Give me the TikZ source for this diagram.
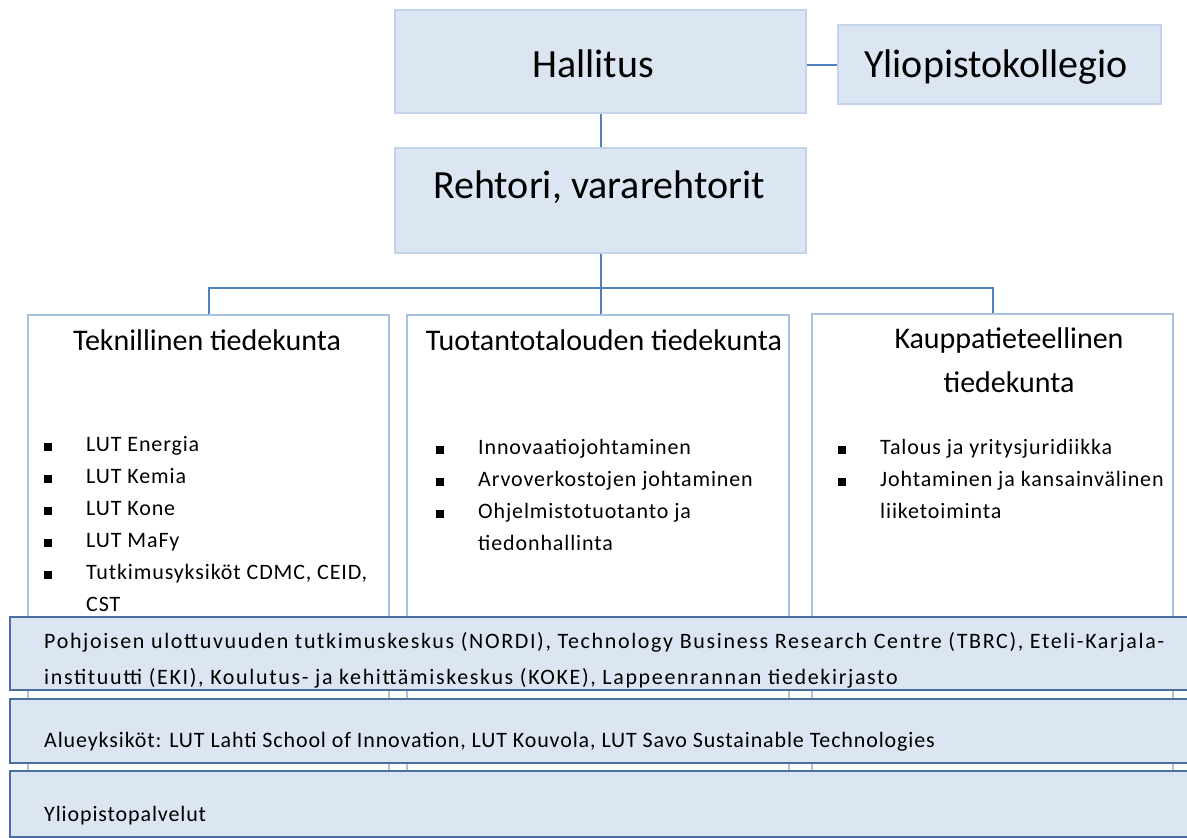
\documentclass[tikz,border=0pt]{standalone}
\usepackage{fontspec}
\setmainfont{Carlito}
\newfontfamily\smallfont[LetterSpace=4]{Carlito}
\newfontfamily\widefont[LetterSpace=7.5]{Carlito}
\definecolor{boxfill}{HTML}{DCE6F2}
\definecolor{topline}{HTML}{C3D4EA}
\definecolor{connc}{HTML}{4F81BD}
\definecolor{facline}{HTML}{A9C2E2}
\definecolor{barline}{HTML}{4A6E9E}
\newcommand{\bitem}[1]{\makebox[42pt][l]{\rule[0.5pt]{7.5pt}{7.5pt}}#1}
\newcommand{\bcont}[1]{\hspace*{42pt}#1}
\tikzset{
  topbox/.style={draw=topline, fill=boxfill, line width=1.5pt, inner sep=0pt},
  facbox/.style={draw=facline, fill=white, line width=1.5pt, inner sep=0pt, anchor=north},
  barbox/.style={draw=barline, fill=boxfill, line width=2.5pt, inner sep=0pt},
  conn/.style={draw=connc, line width=2pt},
  big/.style={font=\fontsize{40}{48}\selectfont, inner sep=0pt},
  mid/.style={font=\fontsize{30}{44}\selectfont, inner sep=0pt, align=center},
  small/.style={font=\smallfont\fontsize{22}{32}\selectfont, inner sep=0pt, align=left, anchor=north west}
}
\begin{document}
\begin{tikzpicture}[x=1pt,y=-1pt]
\clip (0,0) rectangle (1187,838);
\fill[white] (0,0) rectangle (1187,838);
% top boxes
\node[topbox, minimum width=411, minimum height=103] (hal) at (600.5,61.5) {};
\node[big] (haltxt) at (593,64) {Hallitus};
\node[topbox, minimum width=323, minimum height=79] (yli) at (999.5,64.5) {};
\node[big] (ylitxt) at (996,67) {Yliopistokollegio};
\node[topbox, minimum width=411, minimum height=105] (reh) at (600.5,200.5) {};
\node[big] (rehtxt) at (599,187) {Rehtori, vararehtorit};
% faculty boxes
\node[facbox, minimum width=361, minimum height=540] (tek) at (208.5,314) {};
\node[facbox, minimum width=382, minimum height=540] (tuo) at (598,314) {};
\node[facbox, minimum width=361, minimum height=540] (kau) at (992.5,313) {};
\node[mid] (tektit) at (207,340) {Teknillinen tiedekunta};
\node[mid] (tuotit) at (604,340) {Tuotantotalouden tiedekunta};
\node[mid] (kautit) at (1009,360) {Kauppatieteellinen\\tiedekunta};
\node[small] (teklist) at (44,436) {\bitem{LUT Energia}\\\bitem{LUT Kemia}\\\bitem{LUT Kone}\\\bitem{LUT MaFy}\\\bitem{Tutkimusyksiköt CDMC, CEID,}\\\bcont{CST}};
\node[small] (tuolist) at (436,439) {\bitem{Innovaatiojohtaminen}\\\bitem{Arvoverkostojen johtaminen}\\\bitem{Ohjelmistotuotanto ja}\\\bcont{tiedonhallinta}};
\node[small] (kaulist) at (838,439) {\bitem{Talous ja yritysjuridiikka}\\\bitem{Johtaminen ja kansainvälinen}\\\bcont{liiketoiminta}};
% bottom bars
\node[barbox, minimum width=1185, minimum height=73] (bar1) at (602.5,653.5) {};
\node[barbox, minimum width=1185, minimum height=64] (bar2) at (602.5,731) {};
\node[barbox, minimum width=1185, minimum height=66] (bar3) at (602.5,804) {};
\node[small, font=\widefont\fontsize{22}{36}\selectfont] (bar1txt) at (44,632) {Pohjoisen ulottuvuuden tutkimuskeskus (NORDI), Technology Business Research Centre (TBRC), Eteli-Karjala-\\instituutti (EKI), Koulutus- ja kehittämiskeskus (KOKE), Lappeenrannan tiedekirjasto};
\node[small] (bar2txt) at (44,732) {Alueyksiköt: LUT Lahti School of Innovation, LUT Kouvola, LUT Savo Sustainable Technologies};
\node[small] (bar3txt) at (44,806) {Yliopistopalvelut};
% connectors
\draw[conn] (hal.east |- yli.west) -- (yli.west);
\draw[conn] (hal.south) -- (reh.north);
\coordinate (bus) at (600,288);
\draw[conn] (reh.south) -- (reh.south |- tuo.north);
\draw[conn] (tek.north) -- (tek.north |- bus) -- (kau.north |- bus) -- (kau.north);
\end{tikzpicture}
\end{document}
